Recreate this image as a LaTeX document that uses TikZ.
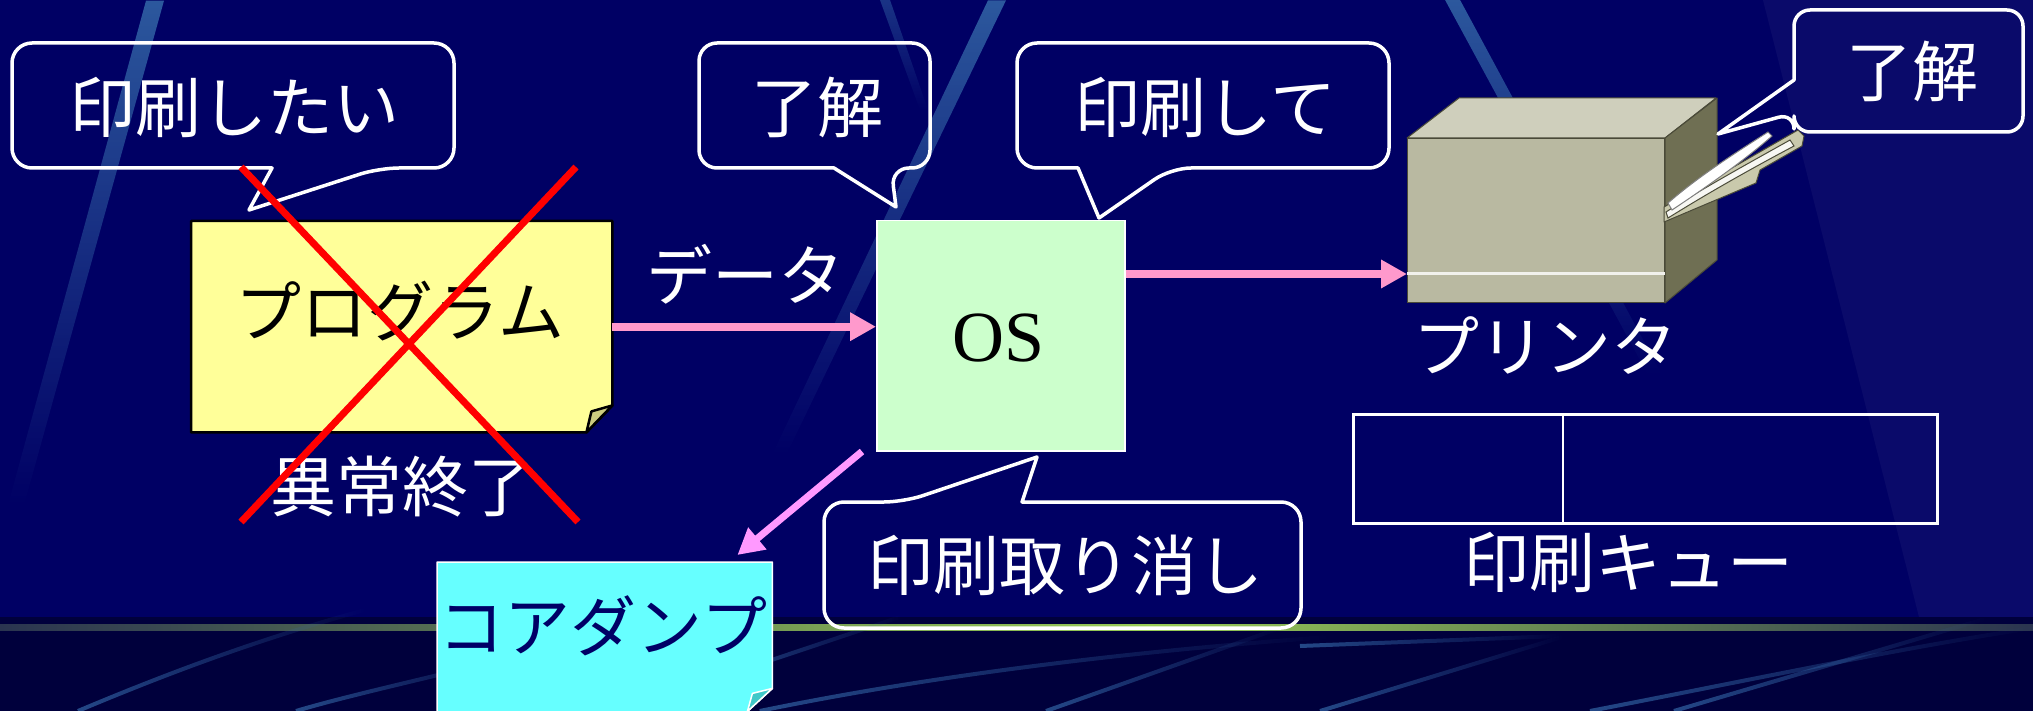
\documentclass[tikz,border=0pt]{standalone}
\usepackage{fontspec}
\setmainfont{Liberation Serif}
\newfontfamily\jp{Noto Sans CJK JP}
\usetikzlibrary{arrows.meta,fadings}

\definecolor{bgnavy}{HTML}{000064}
\definecolor{bandnavy}{HTML}{00003C}
\definecolor{beamblue}{HTML}{3468A8}
\definecolor{progyellow}{HTML}{FFFF99}
\definecolor{foldkhaki}{HTML}{CCCC80}
\definecolor{osgreen}{HTML}{CCFFCC}
\definecolor{dumpcyan}{HTML}{66FFFF}
\definecolor{foldcyan}{HTML}{40C8C8}
\definecolor{flowpink}{HTML}{FF99CC}
\definecolor{dumpviolet}{HTML}{FF99FF}
\definecolor{linegreen}{HTML}{99CC55}
\definecolor{lineshadow}{HTML}{2A3450}
\definecolor{prfront}{HTML}{B9B9A1}
\definecolor{prtop}{HTML}{CFCFBC}
\definecolor{prside}{HTML}{6F6F53}
\definecolor{predge}{HTML}{4A4A38}
\definecolor{prtray}{HTML}{C9C9AC}
\definecolor{darknavy}{HTML}{000066}

\tikzset{
  callout/.style={draw=white, line width=3.5pt, line join=round},
  jptext/.style={text=white, font=\jp\fontsize{66}{70}\selectfont, inner sep=0pt},
  flow/.style={draw=flowpink, line width=8pt, -{Triangle[length=26pt,width=27pt]}},
  swoosh/.style={draw=beamblue, line width=4pt, opacity=0.7, path fading=east},
}

\begin{document}
\begin{tikzpicture}[x=1pt,y=-1pt]
\useasboundingbox (0,0) rectangle (2033,711);

% backdrop
\fill[bgnavy] (0,0) rectangle (2033,711);
\fill[white, opacity=0.04] (1763,0) -- (2033,0) -- (2033,617) -- (1919,617) -- cycle;

% light beams
\fill[beamblue, path fading=south, opacity=0.85] (146,0) -- (164,0) -- (24,505) -- (8,505) -- cycle;
\fill[beamblue, path fading=south, opacity=0.85] (988,0) -- (1006,0) -- (786,455) -- (772,455) -- cycle;
\fill[beamblue, path fading=south, opacity=0.5] (880,0) -- (890,0) -- (928,110) -- (920,110) -- cycle;
\fill[beamblue, path fading=south, opacity=0.85] (1445,0) -- (1460,0) -- (1662,375) -- (1648,375) -- cycle;

% lower band with the green rule
\fill[bandnavy] (0,617) rectangle (2033,711);
\shade[left color=lineshadow, right color=linegreen] (0,624) rectangle (1150,630);
\shade[left color=linegreen, right color=lineshadow] (1150,624) rectangle (2033,630);

% swooshes in the lower band
\draw[swoosh] (78,711) .. controls (180,668) and (270,636) .. (365,610);
\draw[swoosh] (296,711) .. controls (350,695) and (420,680) .. (520,655);
\draw[swoosh] (700,684) -- (900,617);
\draw[swoosh] (760,711) .. controls (950,672) and (1150,650) .. (1330,637);
\draw[swoosh] (1046,711) -- (1280,628);
\draw[swoosh] (1300,646) -- (1560,636);
\draw[swoosh] (1320,711) -- (1562,637);
\draw[swoosh] (1590,711) .. controls (1750,680) and (1900,648) .. (2033,628);
\draw[swoosh] (1674,711) -- (1985,619);

% program sheet with folded corner
\node[minimum width=421pt, minimum height=211pt, inner sep=0pt, anchor=north west] (prog) at (191,221) {};
\filldraw[fill=progyellow, draw=black, line width=2.5pt, line join=round]
  (prog.north west) -- (prog.north east) -- ([yshift=27pt]prog.south east)
  -- ([xshift=-26pt]prog.south east) -- (prog.south west) -- cycle;
\filldraw[fill=foldkhaki, draw=black, line width=2.5pt, line join=round]
  ([yshift=27pt]prog.south east) -- ([xshift=-21pt,yshift=21pt]prog.south east)
  -- ([xshift=-26pt]prog.south east) -- cycle;
\node[jptext, text=black] (progtxt) at (400,311) {プログラム};

% operating system
\node[fill=osgreen, draw=white, line width=1.5pt, minimum width=248pt, minimum height=230pt,
      inner sep=0pt, anchor=north west] (os) at (876,220) {};
\node[font=\fontsize{72}{76}\selectfont, inner sep=0pt] (ostxt) at (999,338) {OS};

% core dump sheet
\node[minimum width=335pt, minimum height=149pt, inner sep=0pt, anchor=north west] (dump) at (437,562) {};
\filldraw[fill=dumpcyan, draw=white, line width=1.5pt, line join=round]
  (dump.south west) -- (dump.north west) -- (dump.north east)
  -- ([yshift=23pt]dump.south east) -- ([xshift=-25pt]dump.south east);
\filldraw[fill=foldcyan, draw=white, line width=1.5pt, line join=round]
  ([yshift=23pt]dump.south east) -- ([xshift=-20pt,yshift=18pt]dump.south east)
  -- ([xshift=-25pt]dump.south east) -- cycle;
\node[jptext, text=darknavy] (dumptxt) at (603,626) {コアダンプ};

% printer
\node[fill=prfront, draw=predge, line width=1pt, minimum width=257pt, minimum height=164pt,
      inner sep=0pt, anchor=north west] (printer) at (1407,138) {};
\filldraw[fill=prtop, draw=predge, line width=1pt, line join=round]
  (printer.north west) -- ++(52,-40) -- ++(257,0) -- (printer.north east) -- cycle;
\filldraw[fill=prside, draw=predge, line width=1pt, line join=round]
  (printer.north east) -- ++(52,-40) -- ++(0,162) -- (printer.south east) -- cycle;
\draw[white!80!prfront, line width=3pt] ([yshift=30pt]printer.south west) -- ([yshift=30pt]printer.south east);
\filldraw[fill=prtray, draw=predge, line width=1pt, line join=round]
  (1664,207) -- (1798,130) -- (1804,136) -- (1802,146) -- (1760,170) -- (1756,183) -- (1664,222) -- cycle;
\filldraw[fill=white!85!prtray, draw=predge, line width=1pt]
  (1666,212) .. controls (1700,190) and (1740,168) .. (1790,140) -- (1794,146)
  .. controls (1745,172) and (1705,195) .. (1668,218) -- cycle;
\filldraw[fill=white, draw=gray, line width=1pt]
  (1668,203) .. controls (1700,175) and (1740,150) .. (1768,132) -- (1772,136)
  .. controls (1745,160) and (1705,188) .. (1672,210) -- cycle;
\coordinate (slot) at ([yshift=29pt]printer.south west);
\node[jptext] (prlbl) at (1545,346) {プリンタ};

% print queue
\node[draw=white, line width=3pt, minimum width=584pt, minimum height=109pt,
      inner sep=0pt, anchor=north west] (queue) at (1352,413) {};
\draw[white, line width=2.5pt] ([xshift=211pt]queue.north west) -- ([xshift=211pt]queue.south west);
\node[jptext] (qlbl) at (1628,562) {印刷キュー};

% data flow
\draw[flow] (prog.east) -- (prog.east -| os.west);
\node[jptext] (datalbl) at (745,274) {データ};
\draw[flow] (slot -| os.east) -- (slot);
\draw[flow, draw=dumpviolet, line width=7pt]
  ([xshift=-14pt]os.south west) -- ([xshift=-35pt,yshift=7pt]dump.north east);

% speech balloons
\draw[callout] (12,105) [rounded corners=20pt] -- (12,43) -- (454,43) -- (454,168) -- (379,168)
  [sharp corners] -- (249,210) -- (272,168) [rounded corners=20pt] -- (12,168) -- cycle;
\node[jptext] (want) at (234,107) {印刷したい};

\draw[callout] (699,105) [rounded corners=18pt] -- (699,43) -- (930,43) -- (930,168) -- (891,168)
  [sharp corners] -- (896,207) -- (834,168) [rounded corners=18pt] -- (699,168) -- cycle;
\node[jptext] (ackos) at (817,107) {了解};

\draw[callout] (1017,105) [rounded corners=20pt] -- (1017,43) -- (1389,43) -- (1389,168) -- (1171,168)
  [sharp corners] -- (1099,218) -- (1078,168) [rounded corners=20pt] -- (1017,168) -- cycle;
\node[jptext] (please) at (1205,107) {印刷して};

\draw[callout] (1908,10) [rounded corners=16pt] -- (2023,10) -- (2023,132) -- (1794,132) -- (1794,113)
  [sharp corners] -- (1718,134) -- (1794,80) [rounded corners=16pt] -- (1794,10) -- cycle;
\node[jptext] (ackpr) at (1912,71) {了解};

\draw[callout] (824,565) [rounded corners=20pt] -- (824,502) -- (904,502)
  [sharp corners] -- (1037,457) -- (1022,502) [rounded corners=20pt] -- (1301,502) -- (1301,628) -- (824,628) -- cycle;
\node[jptext] (cancel) at (1065,565) {印刷取り消し};

% abnormal termination
\node[jptext] (abort) at (402,487) {異常終了};
\draw[red, line width=7pt] (241,167) -- (578,522);
\draw[red, line width=7pt] (576,167) -- (241,522);

\end{tikzpicture}
\end{document}
